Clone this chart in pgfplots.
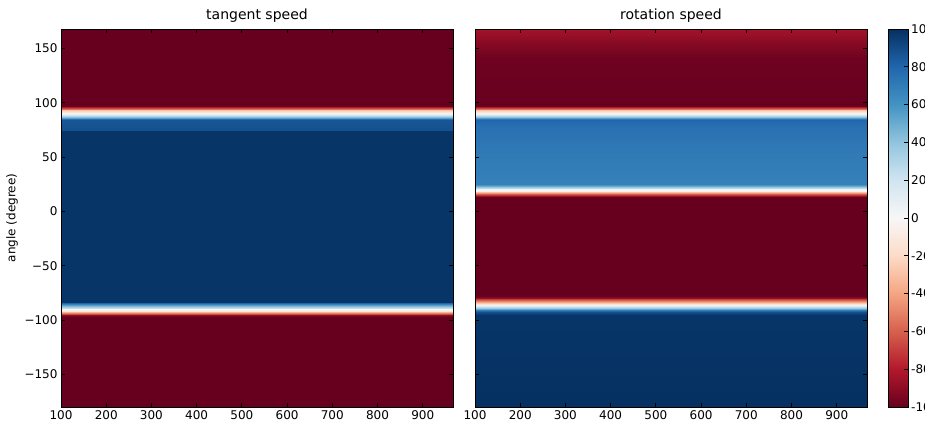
\documentclass[border=0pt]{standalone}
\usepackage{fontspec}
\setmainfont{DejaVu Sans}
\usepackage{pgfplots}
\pgfplotsset{compat=1.18}

\pgfplotsset{
  colormap={rdbu}{rgb255(0cm)=(103,0,31); rgb255(1cm)=(178,24,43); rgb255(2cm)=(214,96,77);
    rgb255(3cm)=(244,165,130); rgb255(4cm)=(253,219,199); rgb255(5cm)=(247,247,247);
    rgb255(6cm)=(209,229,240); rgb255(7cm)=(146,197,222); rgb255(8cm)=(67,147,195);
    rgb255(9cm)=(33,102,172); rgb255(10cm)=(5,48,97)},
  frame/.style={
    scale only axis, enlargelimits=false, axis on top,
    tick align=inside, major tick length=4pt,
    tick style={black, line width=0.8pt},
    axis line style={black, line width=0.8pt},
    tick label style={font=\fontsize{12}{14}\selectfont},
    /pgf/number format/assume math mode=true,
    colormap name=rdbu, point meta min=-100, point meta max=100,
  },
  speedmap/.style={
    frame, width=392pt, height=378pt,
    xmin=100, xmax=967, ymin=-180, ymax=168,
    xtick={100,200,...,900},
    ytick={-150,-100,...,150},
    title style={font=\fontsize{14}{17}\selectfont, at={(0.5,1)}, anchor=base, yshift=3pt},
  },
}

\begin{document}
\begin{tikzpicture}[x=1pt,y=1pt]
\path[use as bounding box] (0,0) rectangle (925,425);

% tangent speed
\begin{axis}[speedmap, at={(61pt,18pt)}, anchor=south west,
  title={tangent speed},
  ylabel={angle (degree)},
  every axis y label/.style={at={(axis description cs:0,0.5)}, xshift=-49pt, rotate=90,
    anchor=center, font=\fontsize{12}{14}\selectfont},
  yticklabels={−150,−100,−50,0,50,100,150}]
\addplot[surf, shader=interp, mesh/cols=2, point meta=explicit]
  table[x=x, y=y, meta=c] {
x y c
100 -180 -100
967 -180 -100
100 -97 -100
967 -97 -100
100 -95.5 -90
967 -95.5 -90
100 -94 -65
967 -94 -65
100 -92.5 -35
967 -92.5 -35
100 -91.5 -12
967 -91.5 -12
100 -90 0
967 -90 0
100 -88.5 25
967 -88.5 25
100 -86.5 55
967 -86.5 55
100 -84.5 80
967 -84.5 80
100 -83 98
967 -83 98
100 74 98
967 74 98
100 75 88
967 75 88
100 84 86
967 84 86
100 85 76
967 85 76
100 86.5 55
967 86.5 55
100 88 30
967 88 30
100 89.5 8
967 89.5 8
100 91 -5
967 91 -5
100 93 -30
967 93 -30
100 94.5 -55
967 94.5 -55
100 96 -80
967 96 -80
100 97 -100
967 97 -100
100 168 -100
967 168 -100
};
\end{axis}

% rotation speed
\begin{axis}[speedmap, at={(475pt,18pt)}, anchor=south west,
  title={rotation speed},
  yticklabels={}]
\addplot[surf, shader=interp, mesh/cols=2, point meta=explicit]
  table[x=x, y=y, meta=c] {
x y c
100 -180 100
967 -180 100
100 -95 98
967 -95 98
100 -93 88
967 -93 88
100 -91 70
967 -91 70
100 -89.5 50
967 -89.5 50
100 -88 25
967 -88 25
100 -86.5 5
967 -86.5 5
100 -85 -15
967 -85 -15
100 -83 -40
967 -83 -40
100 -81 -70
967 -81 -70
100 -79.5 -88
967 -79.5 -88
100 -78 -100
967 -78 -100
100 13 -100
967 13 -100
100 14.5 -85
967 14.5 -85
100 16 -60
967 16 -60
100 17.5 -30
967 17.5 -30
100 19 -5
967 19 -5
100 20.5 5
967 20.5 5
100 22 28
967 22 28
100 23.5 50
967 23.5 50
100 25 68
967 25 68
100 40 70
967 40 70
100 60 72
967 60 72
100 80 76
967 80 76
100 84 80
967 84 80
100 85 72
967 85 72
100 86.5 55
967 86.5 55
100 88 30
967 88 30
100 89.5 8
967 89.5 8
100 91 -5
967 91 -5
100 93 -30
967 93 -30
100 94.5 -55
967 94.5 -55
100 96 -80
967 96 -80
100 97 -100
967 97 -100
100 141 -98
967 141 -98
100 158 -90
967 158 -90
100 168 -84
967 168 -84
};
\end{axis}

% colour scale
\begin{axis}[frame, at={(888pt,18pt)}, anchor=south west,
  width=20pt, height=378pt,
  xmin=0, xmax=1, ymin=-100, ymax=100,
  xtick=\empty,
  ytick={-100,-80,...,100},
  yticklabels={-100,-80,-60,-40,-20,0,20,40,60,80,100},
  ytick pos=right, yticklabel pos=right,
  yticklabel style={anchor=west, inner sep=0pt, xshift=3pt}]
\addplot[surf, shader=interp, mesh/cols=2, point meta=explicit]
  table[x=x, y=y, meta=c] {
x y c
0 -100 -100
1 -100 -100
0 100 100
1 100 100
};
\end{axis}
\end{tikzpicture}
\end{document}
